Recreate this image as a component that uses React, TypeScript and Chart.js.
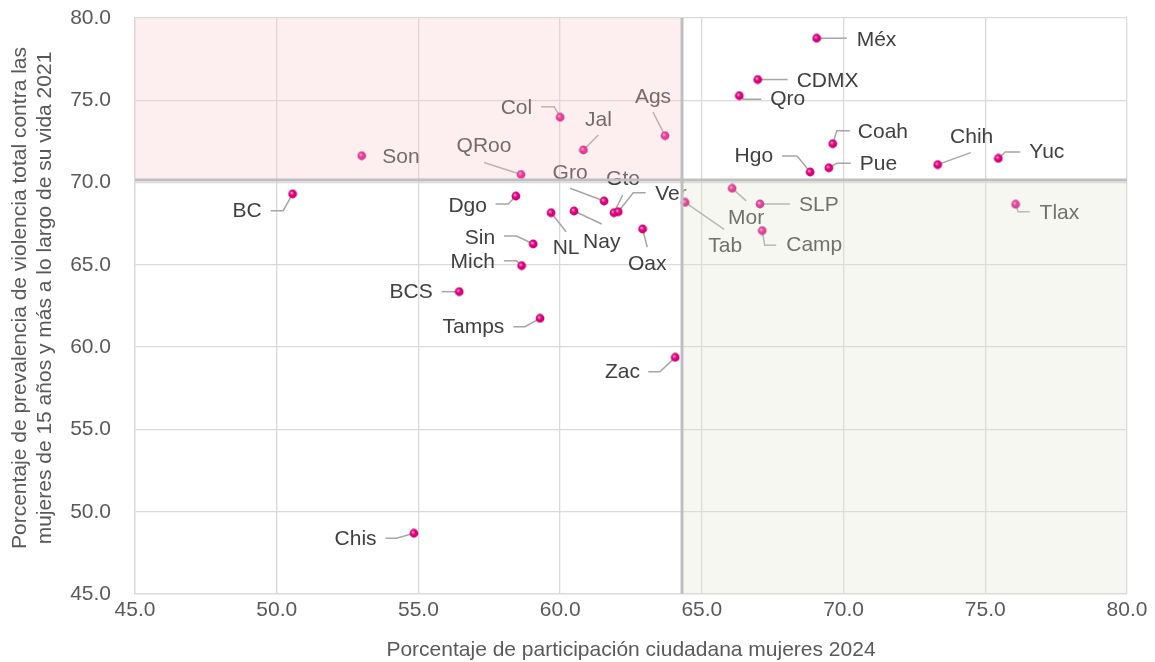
import React, { useEffect, useRef } from "react";
import { Chart, registerables } from "chart.js";

Chart.register(...registerables);

// ---------- data ----------
const states = ["Méx", "CDMX", "Qro", "Coah", "Hgo", "Pue", "Chih", "Yuc", "Tlax", "Mor", "SLP", "Camp", "Tab", "Col", "Jal", "Ags", "QRoo", "Gro", "Gto", "Ver", "Dgo", "BC", "Son", "Sin", "Mich", "NL", "Nay", "Oax", "BCS", "Tamps", "Zac", "Chis"];
const participacion = [69.05, 66.97, 66.32, 69.62, 68.82, 69.48, 73.32, 75.46, 76.07, 66.07, 67.05, 67.13, 64.41, 60.0, 60.82, 63.7, 58.62, 61.55, 61.9, 62.05, 58.44, 50.56, 53.0, 59.05, 58.64, 59.68, 60.49, 62.91, 56.44, 59.29, 64.06, 54.84];
const violencia = [78.77, 76.26, 75.28, 72.36, 70.64, 70.9, 71.09, 71.47, 68.68, 69.65, 68.7, 67.08, 68.8, 73.97, 71.98, 72.85, 70.49, 68.88, 68.17, 68.23, 69.18, 69.31, 71.63, 66.27, 64.95, 68.17, 68.27, 67.18, 63.37, 61.75, 59.38, 48.69];
const promedioX = 64.3;
const promedioY = 70.15;
const axisMin = 45;
const axisMax = 80;
const axisStep = 5;
const xTitle = "Porcentaje de participación ciudadana mujeres 2024";
const yTitle = ["Porcentaje de prevalencia de violencia total contra las", "mujeres de 15 años y más a lo largo de su vida 2021"];

// ---------- label placement (pixel offsets from each point) ----------
type Lab = { t: [number, number]; a: CanvasTextAlign; p: [number, number][] };
const labelLayout: Record<string, Lab> = {
  "Méx": { t: [40, 2], a: "left", p: [[30, 0]] },
  "CDMX": { t: [39, 1.5], a: "left", p: [[30, 0]] },
  "Qro": { t: [31, 4], a: "left", p: [[4, 3.5], [22, 3.5]] },
  "Coah": { t: [25, -12], a: "left", p: [[4, -13], [17, -13]] },
  "Hgo": { t: [-37, -15.5], a: "right", p: [[-13, -16], [-28, -16]] },
  "Pue": { t: [31, -3.5], a: "left", p: [[8, -4.5], [22, -4.5]] },
  "Chih": { t: [34, -27], a: "center", p: [[33, -12]] },
  "Yuc": { t: [31, -6], a: "left", p: [[7, -6.5], [22, -6.5]] },
  "Tlax": { t: [24, 9], a: "left", p: [[2.5, 7.5], [14, 7.5]] },
  "Mor": { t: [14, 30], a: "center", p: [[14, 12.5]] },
  "SLP": { t: [39, 1], a: "left", p: [[30, 0]] },
  "Camp": { t: [24, 15], a: "left", p: [[2.5, 14.5], [14, 14.5]] },
  "Tab": { t: [40, 44], a: "center", p: [[39, 27]] },
  "Col": { t: [-28, -9.5], a: "right", p: [[-6, -10.5], [-19, -10.5]] },
  "Jal": { t: [15, -30], a: "center", p: [[15, -15]] },
  "Ags": { t: [-12, -38], a: "center", p: [[-12, -23.5]] },
  "QRoo": { t: [-37, -28], a: "center", p: [[-37, -12]] },
  "Gro": { t: [-34, -28], a: "center", p: [[-34, -12.7]] },
  "Gto": { t: [9, -33], a: "center", p: [[8.7, -17.7]] },
  "Ver": { t: [37, -17.5], a: "left", p: [[15, -19], [27.4, -19]] },
  "Dgo": { t: [-29, 10], a: "right", p: [[-7.7, 8], [-20.3, 8]] },
  "BC": { t: [-31, 17.7], a: "right", p: [[-9.4, 16.7], [-22, 16.7]] },
  "Son": { t: [20.6, 1.6], a: "left", p: [] },
  "Sin": { t: [-38, -5.7], a: "right", p: [[-16.6, -8], [-29.3, -8]] },
  "Mich": { t: [-26.7, -3.4], a: "right", p: [[-5, -5], [-17.7, -5]] },
  "NL": { t: [15, 36], a: "center", p: [[15, 19]] },
  "Nay": { t: [27.7, 31], a: "center", p: [[27.7, 13]] },
  "Oax": { t: [4.6, 35], a: "center", p: [[4.6, 18.3]] },
  "BCS": { t: [-26.6, 0.6], a: "right", p: [[-17.6, 0]] },
  "Tamps": { t: [-35.7, 9], a: "right", p: [[-15, 8.4], [-26.7, 8.4]] },
  "Zac": { t: [-35.3, 15], a: "right", p: [[-15.3, 14.4], [-27, 14.4]] },
  "Chis": { t: [-37.3, 6], a: "right", p: [[-17.3, 5], [-28.3, 5]] },
};

const FONT = '"Liberation Sans", Arial, Helvetica, sans-serif';

const annotatePlugin = {
  id: "annotate",
  beforeDatasetsDraw(chart: any) {
    const ctx = chart.ctx as CanvasRenderingContext2D;
    const meta = chart.getDatasetMeta(0);
    ctx.save();
    meta.data.forEach((pt: any, i: number) => {
      const name = states[i];
      const L = labelLayout[name];
      if (!L) return;
      const x = pt.x;
      const y = pt.y;
      if (L.p.length) {
        ctx.beginPath();
        ctx.moveTo(x, y);
        L.p.forEach(([dx, dy]) => ctx.lineTo(x + dx, y + dy));
        ctx.strokeStyle = "#a6a6a6";
        ctx.lineWidth = 1.5;
        ctx.stroke();
      }
      ctx.font = `21px ${FONT}`;
      ctx.fillStyle = "#404040";
      ctx.textAlign = L.a;
      ctx.textBaseline = "middle";
      ctx.fillText(name, x + L.t[0], y + L.t[1]);
    });
    ctx.restore();
  },
  afterDatasetsDraw(chart: any) {
    const ctx = chart.ctx as CanvasRenderingContext2D;
    const { chartArea, scales } = chart;
    const mx = scales.x.getPixelForValue(promedioX);
    const my = scales.y.getPixelForValue(promedioY);
    ctx.save();
    ctx.fillStyle = "rgba(248,198,205,0.3)";
    ctx.fillRect(chartArea.left, chartArea.top, mx - chartArea.left, my - chartArea.top);
    ctx.fillStyle = "rgba(228,228,212,0.3)";
    ctx.fillRect(mx, my, chartArea.right - mx, chartArea.bottom - my);
    ctx.strokeStyle = "#bfbfbf";
    ctx.lineWidth = 3;
    ctx.beginPath();
    ctx.moveTo(mx, chartArea.top);
    ctx.lineTo(mx, chartArea.bottom);
    ctx.moveTo(chartArea.left, my);
    ctx.lineTo(chartArea.right, my);
    ctx.stroke();
    ctx.restore();
  },
  afterDraw(chart: any) {
    const ctx = chart.ctx as CanvasRenderingContext2D;
    const { chartArea } = chart;
    ctx.save();
    ctx.fillStyle = "#595959";
    ctx.font = `21px ${FONT}`;
    ctx.textAlign = "center";
    ctx.textBaseline = "middle";
    ctx.fillText(xTitle, (chartArea.left + chartArea.right) / 2, 650);
    ctx.translate(0, 298);
    ctx.rotate(-Math.PI / 2);
    ctx.fillText(yTitle[0], 0, 20);
    ctx.fillText(yTitle[1], 0, 45);
    ctx.restore();
  },
};

function makeDot(): HTMLCanvasElement {
  const c = document.createElement("canvas");
  c.width = 10;
  c.height = 10;
  const g = c.getContext("2d")!;
  const grad = g.createRadialGradient(3.8, 3.8, 0.3, 5, 5, 5);
  grad.addColorStop(0, "#f7a0cc");
  grad.addColorStop(0.4, "#e2007f");
  grad.addColorStop(1, "#c8006e");
  g.fillStyle = grad;
  g.beginPath();
  g.arc(5, 5, 4.4, 0, Math.PI * 2);
  g.fill();
  return c;
}

export default function App() {
  const ref = useRef<HTMLCanvasElement | null>(null);
  useEffect(() => {
    if (!ref.current) return;
    const dot = makeDot();
    const points = participacion.map((x, i) => ({ x, y: violencia[i] }));
    const tickFont = { family: FONT, size: 21 };
    const chart = new Chart(ref.current, {
      type: "scatter",
      data: {
        datasets: [
          {
            data: points,
            pointStyle: dot as any,
            pointRadius: 5,
            backgroundColor: "#e2007f",
            borderWidth: 0,
          },
        ],
      },
      options: {
        responsive: false,
        animation: false,
        layout: { padding: { top: 18, right: 28, left: 0, bottom: 0 } },
        plugins: { legend: { display: false }, tooltip: { enabled: false } },
        scales: {
          x: {
            type: "linear",
            min: axisMin,
            max: axisMax,
            afterFit: (s: any) => {
              s.height = 68;
              s.paddingLeft = 0;
              s.paddingRight = 0;
            },
            ticks: {
              stepSize: axisStep,
              padding: 4,
              color: "#595959",
              font: tickFont,
              callback: (v: any) => Number(v).toFixed(1),
            },
            grid: { color: "#d9d9d9", lineWidth: 1.3, drawTicks: false },
            border: { display: true, color: "#d9d9d9", width: 1.3 },
          },
          y: {
            type: "linear",
            min: axisMin,
            max: axisMax,
            afterFit: (s: any) => {
              s.width = 135;
              s.paddingTop = 0;
              s.paddingBottom = 0;
            },
            ticks: {
              stepSize: axisStep,
              padding: 24,
              color: "#595959",
              font: tickFont,
              callback: (v: any) => Number(v).toFixed(1),
            },
            grid: { color: "#d9d9d9", lineWidth: 1.3, drawTicks: false },
            border: { display: true, color: "#d9d9d9", width: 1.3 },
          },
        },
      },
      plugins: [annotatePlugin],
    });
    return () => chart.destroy();
  }, []);
  return (
    <div style={{ position: "absolute", left: 0, top: 0, width: 1155, height: 662, background: "#fff" }}>
      <canvas ref={ref} width={1155} height={662} style={{ display: "block" }} />
    </div>
  );
}
